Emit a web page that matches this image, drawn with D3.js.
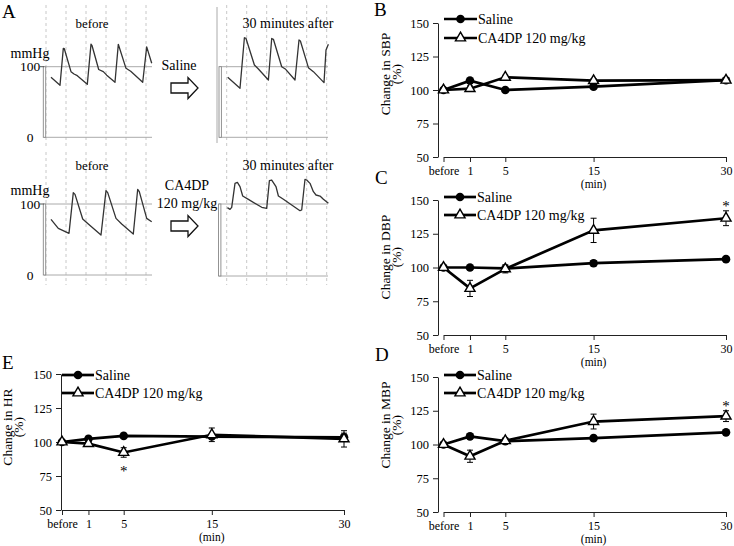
<!DOCTYPE html>
<html><head><meta charset="utf-8">
<script src="https://cdn.jsdelivr.net/npm/d3@7"></script>
<style>body{margin:0;background:#fff}svg{display:block;font-family:"Liberation Serif","DejaVu Serif",serif}</style>
</head><body><svg id="c" width="734" height="546"></svg>
<script>
// ---------- data ----------
const timeLabels = ["before","1","5","15","30"];
const timeValues = [-2,1,5,15,30];
const yTickValues = [50,75,100,125,150];
const seriesNames = ["Saline","CA4DP 120 mg/kg"];

const sbpSaline    = [100,107,100,102.5,107.3];
const sbpSalineErr = [0,1.2,1,1,1];
const sbpCA4DP     = [100,101,109.5,107,107.3];
const sbpCA4DPErr  = [0,2,1.5,1.5,1.2];

const dbpSaline    = [100,100,99.3,103.2,106.2];
const dbpSalineErr = [0,1,1,2,1];
const dbpCA4DP     = [100,84.5,99,127.5,136.5];
const dbpCA4DPErr  = [0,6,3,9,5.5];

const mbpSaline    = [100,106,102.5,104.7,109];
const mbpSalineErr = [0,1,1,1,1];
const mbpCA4DP     = [100,91.3,102.8,117,121];
const mbpCA4DPErr  = [0,4.5,2,5.5,4];

const hrSaline     = [100,102.3,104.5,104,103.5];
const hrSalineErr  = [0,1,1,1.5,3];
const hrCA4DP      = [100,98.8,92.3,105.3,102.3];
const hrCA4DPErr   = [0,1.5,3.5,5,6];

// blood-pressure traces (time in s, pressure in mmHg)
const traceGridTimes = [0,0.2,0.4,0.6,0.8,1.0];
const traceBeforeSaline = [[0.05,85],[0.14,73.6],[0.173,126],[0.183,125.5],[0.25,93],[0.28,89.7],[0.313,87.3],[0.413,75],[0.45,132],[0.46,130],[0.527,96],[0.573,93],[0.607,88],[0.69,78],[0.723,131.7],[0.80,97.7],[0.847,93.5],[0.967,78],[1.007,128],[1.057,104.8]];
const traceAfterSaline = [[0.01,85],[0.133,69.4],[0.177,141],[0.193,140],[0.277,102.4],[0.317,96.7],[0.417,81.2],[0.45,140],[0.467,138.8],[0.55,100],[0.59,96.3],[0.683,81.2],[0.723,137.8],[0.737,136.4],[0.817,98.6],[0.867,93],[0.973,77.4],[0.993,123.7],[1.017,131.7]];
const traceBeforeCA4DP = [[0.05,78.4],[0.123,65.7],[0.23,58.7],[0.273,116],[0.29,113.6],[0.367,78.9],[0.423,71.8],[0.55,56.3],[0.6,118.8],[0.617,116],[0.70,79.8],[0.757,71.8],[0.873,57.7],[0.917,120.7],[0.933,117.4],[1.007,79.8],[1.057,75]];
const traceAfterCA4DP = [[0.007,94.9],[0.033,92.6],[0.05,95.4],[0.083,128.7],[0.107,130.1],[0.133,124.1],[0.16,111.1],[0.217,106.5],[0.35,95.4],[0.4,94],[0.427,132.4],[0.45,133.3],[0.493,124.1],[0.517,111.1],[0.567,106.5],[0.733,90.7],[0.75,91.7],[0.783,134.3],[0.8,133.3],[0.833,128.7],[0.867,117.1],[0.893,112.5],[0.933,111.1],[0.967,106.5],[1.017,101]];
const traceTicks = [0,100];

// ---------- drawing ----------
const svg = d3.select("#c");

function txt(x,y,s,opt={}){
  return svg.append("text").attr("x",x).attr("y",y).attr("dy","0.35em")
    .attr("text-anchor",opt.anchor||"middle").attr("font-size",opt.size||13)
    .attr("fill","#000").text(s);
}

// Panel A
const mini = [
 {data:traceBeforeSaline, xStart:46, yZero:137.3, y100:66.7, barX:43.3, hx:[44,152], gridY:[5,148], label:"before", lx:92, ly:23, ticks:true, mmY:53},
 {data:traceAfterSaline, xStart:226.7, yZero:137.3, y100:66.7, barX:219, hx:[219,328], gridY:[5,148], label:"30 minutes after", lx:288, ly:23, border:[217,7,143]},
 {data:traceBeforeCA4DP, xStart:46, yZero:275, y100:204, barX:43.3, hx:[44,152], gridY:[152,285], label:"before", lx:92, ly:165, ticks:true, mmY:190},
 {data:traceAfterCA4DP, xStart:226.7, yZero:276, y100:204, barX:218.5, hx:[219,328], gridY:[152,285], label:"30 minutes after", lx:288, ly:165}
];
mini.forEach(m=>{
  const x = d3.scaleLinear().domain([0,1]).range([m.xStart,m.xStart+100]);
  const y = d3.scaleLinear().domain([0,100]).range([m.yZero,m.y100]);
  const g = svg.append("g");
  g.selectAll(".grid").data(traceGridTimes).join("line")
    .attr("x1",d=>x(d)).attr("x2",d=>x(d)).attr("y1",m.gridY[0]).attr("y2",m.gridY[1])
    .attr("stroke","#c8c8c8").attr("stroke-dasharray","3,3").attr("stroke-width",1);
  if(m.border) g.append("line").attr("x1",m.border[0]).attr("x2",m.border[0]).attr("y1",m.border[1]).attr("y2",m.border[2]).attr("stroke","#aaa");
  g.selectAll(".h").data(traceTicks).join("line")
    .attr("x1",m.hx[0]).attr("x2",m.hx[1]).attr("y1",d=>y(d)).attr("y2",d=>y(d))
    .attr("stroke","#aaa").attr("stroke-width",1);
  g.append("rect").attr("x",m.barX).attr("y",y(100)).attr("width",2.4).attr("height",y(0)-y(100))
    .attr("fill","#fff").attr("stroke","#888").attr("stroke-width",0.9);
  g.append("path").datum(m.data)
    .attr("d",d3.line().x(d=>x(d[0])).y(d=>y(d[1])))
    .attr("fill","none").attr("stroke","#333").attr("stroke-width",1.3).attr("stroke-linejoin","round");
  txt(m.lx,m.ly,m.label,{size:m.label==="before"?13:14});
  if(m.ticks){
    txt(30,m.mmY,"mmHg",{size:14});
    traceTicks.forEach(t=>{
      txt(30,y(t),String(t),{size:13.5});
      if(t===100) g.append("line").attr("x1",40).attr("x2",44).attr("y1",y(t)).attr("y2",y(t)).attr("stroke","#555");
    });
  }
});
// arrows and treatment labels
function arrow(ax,ay){
  const pts=[[0,-5],[17,-5],[17,-10.5],[27,0],[17,10.5],[17,5],[0,5]].map(p=>[ax+p[0],ay+p[1]]);
  svg.append("polygon").attr("points",pts.map(p=>p.join(",")).join(" "))
    .attr("fill","#fff").attr("stroke","#111").attr("stroke-width",1.3);
}
arrow(171,88); arrow(171,226);
txt(179,65,"Saline",{size:14});
txt(187,185,"CA4DP",{size:14});
txt(187,203,"120 mg/kg",{size:14});
txt(2,11,"A",{size:19,anchor:"start"});

// Panels B-E
const panels = [
 {letter:"B", lp:[374,9], metric:"SBP", s:sbpSaline, se:sbpSalineErr, c:sbpCA4DP, ce:sbpCA4DPErr,
  axisX:438, x0:443.5, x1:726, yTop:23, yBot:157, legY:[19,38], legX:[444,477], titleY:74, titleX:[385.5,396.5], stars:[]},
 {letter:"C", lp:[375,177], metric:"DBP", s:dbpSaline, se:dbpSalineErr, c:dbpCA4DP, ce:dbpCA4DPErr,
  axisX:438, x0:443.5, x1:726, yTop:200, yBot:335, legY:[197,215], legX:[444,476], titleY:257, titleX:[385.5,396.5], stars:[{i:4,pos:"above"}]},
 {letter:"D", lp:[375,354], metric:"MBP", s:mbpSaline, se:mbpSalineErr, c:mbpCA4DP, ce:mbpCA4DPErr,
  axisX:438, x0:443.5, x1:726, yTop:377, yBot:512, legY:[375,393], legX:[444,476], titleY:425, titleX:[385.5,396.5], stars:[{i:4,pos:"above"}]},
 {letter:"E", lp:[2,362], metric:"HR", s:hrSaline, se:hrSalineErr, c:hrCA4DP, ce:hrCA4DPErr,
  axisX:61, x0:62, x1:344, yTop:374, yBot:510, legY:[375,393], legX:[62,94], titleY:427, titleX:[7.5,18], stars:[{i:2,pos:"below"}]}
];
const tri = d3.symbol(d3.symbolTriangle).size(44)();

panels.forEach(p=>{
  const x = d3.scaleLinear().domain([timeValues[0],timeValues[timeValues.length-1]]).range([p.x0,p.x1]);
  const y = d3.scaleLinear().domain([50,150]).range([p.yBot,p.yTop]);
  const g = svg.append("g");
  // y axis
  const ya = g.append("g").attr("transform",`translate(${p.axisX},0)`)
    .call(d3.axisLeft(y).tickValues(yTickValues).tickSize(5).tickSizeOuter(0).tickPadding(4));
  ya.selectAll("text").attr("font-size",12.5);
  // x axis
  const xa = g.append("g").attr("transform",`translate(0,${p.yBot})`)
    .call(d3.axisBottom(x).tickValues(timeValues).tickFormat((d,i)=>timeLabels[i]).tickSize(5).tickSizeOuter(0).tickPadding(4));
  xa.selectAll("text").attr("font-size",12);
  [ya,xa].forEach(a=>{
    a.selectAll("path,line").attr("stroke","#222");
    a.selectAll("text").attr("font-family","Liberation Serif").attr("fill","#000");
  });
  txt(x(15),p.yBot+27,"(min)",{size:11.5});
  // title
  [ "Change in "+p.metric, "(%)" ].forEach((t,k)=>{
    svg.append("text").attr("transform",`translate(${p.titleX[k]},${p.titleY}) rotate(-90)`)
      .attr("dy","0.35em").attr("text-anchor","middle").attr("font-size",13.5).attr("fill","#000").text(t);
  });
  txt(p.lp[0],p.lp[1],p.letter,{size:19,anchor:"start"});
  const line = d3.line().x((d,i)=>x(timeValues[i])).y(d=>y(d));
  [p.s,p.c].forEach(vals=>{
    g.append("path").datum(vals).attr("d",line).attr("fill","none").attr("stroke","#000").attr("stroke-width",2.7);
  });
  [[p.c,p.ce],[p.s,p.se]].forEach(([vals,errs])=>{
    vals.forEach((v,i)=>{
      if(!errs[i]) return;
      const cx=x(timeValues[i]), yt=y(v+errs[i]), yb=y(v-errs[i]);
      g.append("path").attr("d",`M${cx},${yt}V${yb}M${cx-3},${yt}H${cx+3}M${cx-3},${yb}H${cx+3}`)
        .attr("stroke","#000").attr("stroke-width",1).attr("fill","none");
    });
  });
  g.selectAll(".ms").data(p.s).join("circle").attr("cx",(d,i)=>x(timeValues[i])).attr("cy",d=>y(d)).attr("r",4.3).attr("fill","#000");
  g.selectAll(".mc").data(p.c).join("path").attr("d",tri)
    .attr("transform",(d,i)=>`translate(${x(timeValues[i])},${y(d)})`)
    .attr("fill","#fff").attr("stroke","#000").attr("stroke-width",1.4);
  p.stars.forEach(st=>{
    const v=p.c[st.i], e=p.ce[st.i], cx=x(timeValues[st.i]);
    const sy = st.pos==="above" ? y(v+e)-8 : y(v-e)+11;
    txt(cx,sy+3,"*",{size:15});
  });
  // legend
  seriesNames.forEach((n,k)=>{
    const ly=p.legY[k], mx=(p.legX[0]+p.legX[1])/2;
    g.append("line").attr("x1",p.legX[0]).attr("x2",p.legX[1]).attr("y1",ly).attr("y2",ly).attr("stroke","#000").attr("stroke-width",2.7);
    if(k===0) g.append("circle").attr("cx",mx).attr("cy",ly).attr("r",4.3).attr("fill","#000");
    else g.append("path").attr("d",tri).attr("transform",`translate(${mx},${ly})`).attr("fill","#fff").attr("stroke","#000").attr("stroke-width",1.4);
    txt(p.legX[1]+1,ly,n,{anchor:"start",size:14});
  });
});
</script></body></html>
